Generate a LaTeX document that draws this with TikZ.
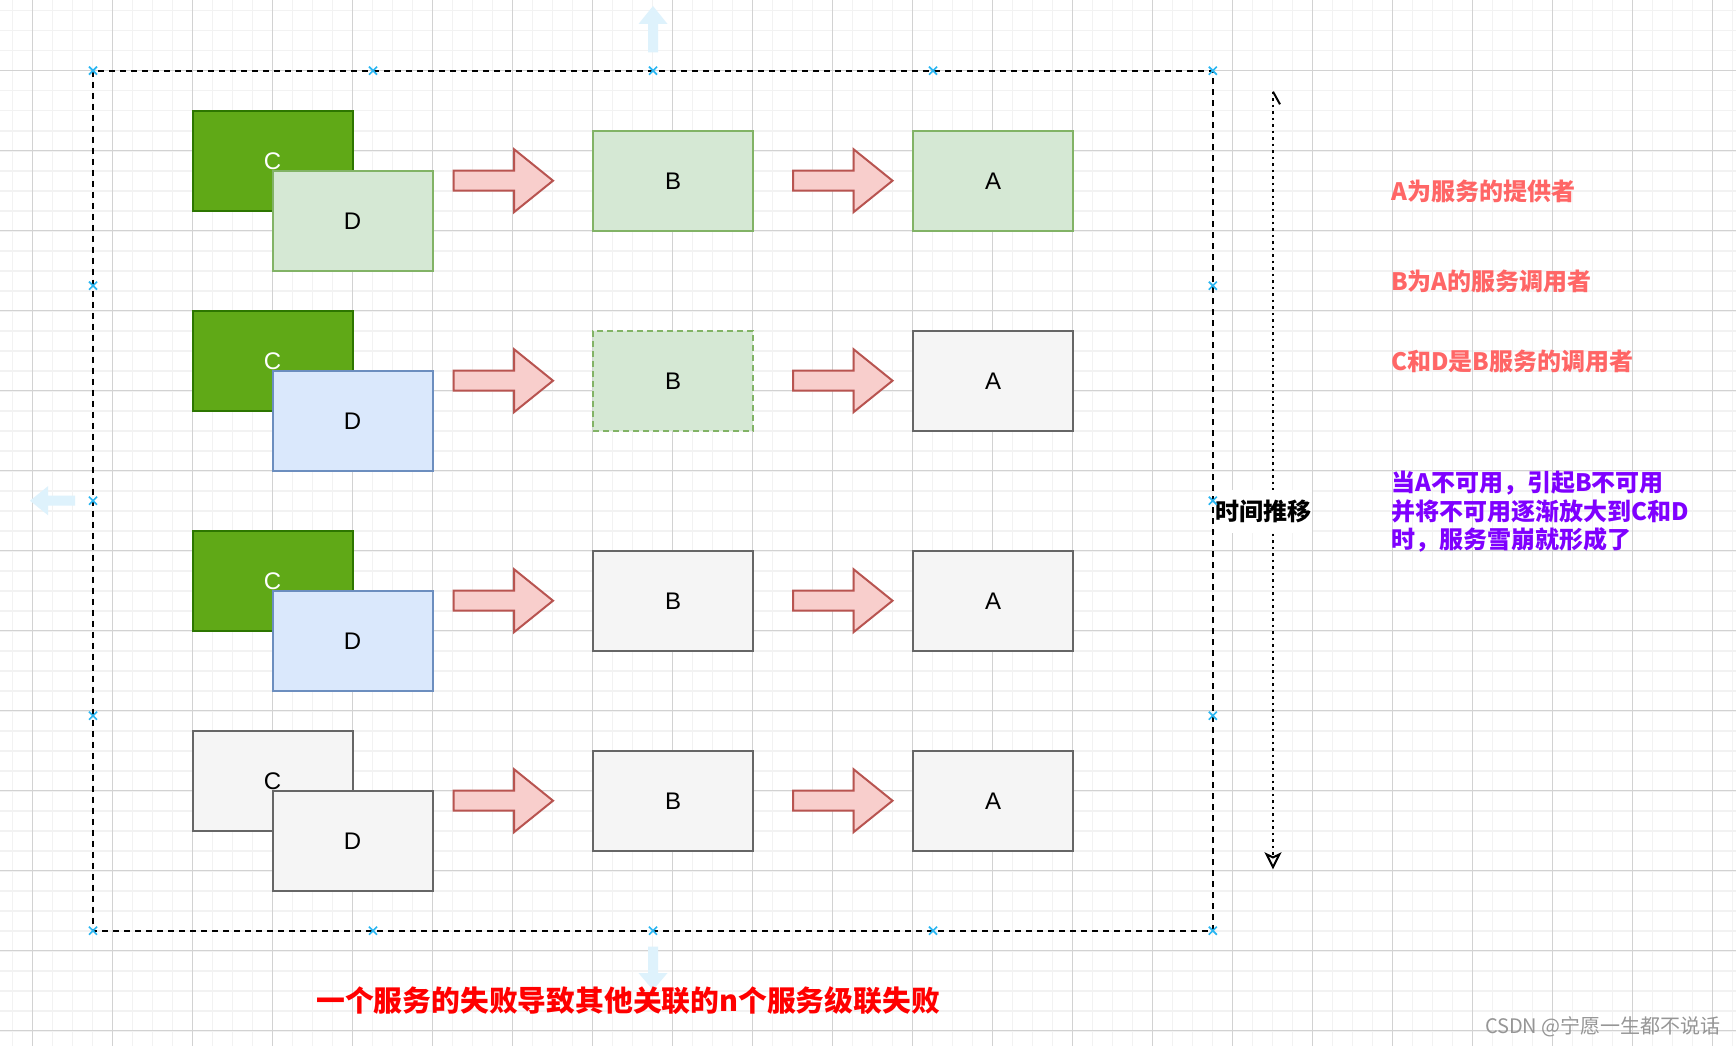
\documentclass[tikz,border=0pt]{standalone}
\usepackage{fontspec}
\setmainfont{Liberation Sans}
\newfontfamily\cjk{Noto Sans CJK SC}
\usetikzlibrary{arrows.meta}

\definecolor{gridminor}{RGB}{242,242,242}
\definecolor{gridmajor}{RGB}{210,210,210}
\definecolor{cfill}{HTML}{60A917}
\definecolor{cline}{HTML}{2D7600}
\definecolor{gfill}{HTML}{D5E8D4}
\definecolor{gline}{HTML}{82B366}
\definecolor{bfill}{HTML}{DAE8FC}
\definecolor{bline}{HTML}{6C8EBF}
\definecolor{nfill}{HTML}{F5F5F5}
\definecolor{nline}{HTML}{666666}
\definecolor{afill}{HTML}{F8CECC}
\definecolor{aline}{HTML}{B85450}
\definecolor{handle}{HTML}{29B6F2}
\definecolor{hint}{RGB}{222,242,252}
\definecolor{notered}{HTML}{FF6666}
\definecolor{notepurple}{HTML}{7F00FF}
\definecolor{titlered}{HTML}{FF0000}
\definecolor{wmgray}{RGB}{150,150,150}

\begin{document}
\begin{tikzpicture}[x=1pt,y=-1pt,
  svc/.style={draw, line width=2pt, minimum width=160pt, minimum height=100pt,
    anchor=north west, inner sep=0pt, outer sep=0pt,
    text height=18.4pt, text depth=0pt,
    font=\fontsize{24}{28}\selectfont},
  cbox/.style={svc, fill=cfill, draw=cline, text=white},
  greenbox/.style={svc, fill=gfill, draw=gline},
  bluebox/.style={svc, fill=bfill, draw=bline},
  greybox/.style={svc, fill=nfill, draw=nline},
  note/.style={anchor=west, inner sep=0pt, align=left,
    font=\cjk\bfseries\fontsize{24}{28.3}\selectfont},
  blockarrow/.pic={
    \draw[line width=2pt, draw=aline, fill=afill, line join=miter]
      (0,-10) -- (60.5,-10) -- (60.5,-31.5) -- (99.5,0) -- (60.5,31.5)
      -- (60.5,10) -- (0,10) -- cycle;},
  handlemark/.pic={
    \draw[handle, line width=1.7pt] (-4,-4) -- (4,4) (-4,4) -- (4,-4);}
]
\useasboundingbox (0,0) rectangle (1736,1046);
\fill[white] (0,0) rectangle (1736,1046);

% background grid
\foreach \i in {0,...,86}
  \draw[gridminor, line width=1.6pt] ({12.6+20*\i},0) -- ({12.6+20*\i},1046);
\foreach \i in {0,...,51}
  \draw[gridminor, line width=1.6pt] (0,{10.7+20*\i}) -- (1736,{10.7+20*\i});
\foreach \i in {0,...,21}
  \draw[gridmajor, line width=1pt] ({32.6+80*\i},0) -- ({32.6+80*\i},1046);
\foreach \i in {0,...,12}
  \draw[gridmajor, line width=1pt] (0,{70.7+80*\i}) -- (1736,{70.7+80*\i});

% faded direction hints around the container
\fill[hint] (648,52.5) -- (648,24) -- (638.5,24) -- (653,6) -- (667.5,24)
  -- (658,24) -- (658,52.5) -- cycle;
\fill[hint] (648,946.7) -- (648,973) -- (638.5,973) -- (653,990) -- (667.5,973)
  -- (658,973) -- (658,946.7) -- cycle;
\fill[hint] (75,495.7) -- (48,495.7) -- (48,486.2) -- (30,500.7) -- (48,515.2)
  -- (48,505.7) -- (75,505.7) -- cycle;

% container
\draw[line width=2pt, dash pattern=on 6pt off 5pt] (93,70.7) rectangle (1212.8,930.7);

% row 1: everything healthy
\node[cbox] (c1) at (192.5,110.7) {C};
\node[greenbox] (d1) at (272.5,170.7) {D};
\node[greenbox] (b1) at (593,130.7) {B};
\node[greenbox] (a1) at (913,130.7) {A};

% row 2: A down, B degrading
\node[cbox] (c2) at (192.5,310.7) {C};
\node[bluebox] (d2) at (272.5,370.7) {D};
\node[greenbox, dashed, dash pattern=on 6pt off 4pt] (b2) at (593,330.7) {B};
\node[greybox] (a2) at (913,330.7) {A};

% row 3: A and B down
\node[cbox] (c3) at (192.5,530.7) {C};
\node[bluebox] (d3) at (272.5,590.7) {D};
\node[greybox] (b3) at (593,550.7) {B};
\node[greybox] (a3) at (913,550.7) {A};

% row 4: all down
\node[greybox] (c4) at (192.5,730.7) {C};
\node[greybox] (d4) at (272.5,790.7) {D};
\node[greybox] (b4) at (593,750.7) {B};
\node[greybox] (a4) at (913,750.7) {A};

% call arrows
\foreach \r in {1,2,3,4} {
  \pic at ([xshift=-139.5pt]b\r.west) {blockarrow};
  \pic at ([xshift=-120pt]a\r.west) {blockarrow};
}

% time axis
\coordinate (tstart) at (1273,91.7);
\coordinate (tend) at (1273,869.3);
\draw[line width=2pt, dash pattern=on 2.5pt off 4pt,
  -{Stealth[open, length=17pt, width=17pt, inset=4pt]}] (tstart) -- (tend);
\draw[line width=2pt] (tstart) -- ++(7,12.6);
\node[anchor=west, fill=white, inner xsep=0.5pt, inner ysep=0pt, minimum height=43pt,
  font=\cjk\bfseries\fontsize{24}{28}\selectfont] (timelabel) at (1214.5,511.7) {时间推移};

% notes
\node[note, text=notered] (n1) at (1391,191.7) {A为服务的提供者};
\node[note, text=notered] (n2) at (1391,281.7) {B为A的服务调用者};
\node[note, text=notered] (n3) at (1391,361.7) {C和D是B服务的调用者};
\node[note, text=notepurple] (n4) at (1391,511.7)
  {当A不可用，引起B不可用\\并将不可用逐渐放大到C和D\\时，服务雪崩就形成了};

\node[anchor=west, inner sep=0pt, text=titlered,
  font=\cjk\bfseries\fontsize{28.8}{34}\selectfont] (caption) at (316,1001)
  {一个服务的失败导致其他关联的n个服务级联失败};

\node[anchor=east, inner sep=0pt, text=wmgray,
  font=\cjk\fontsize{20}{24}\selectfont] (wm) at (1721,1027) {CSDN @宁愿一生都不说话};

% selection handles on the container
\foreach \x in {93,373,653,933,1212.8} {
  \pic at (\x,70.7) {handlemark};
  \pic at (\x,930.7) {handlemark};
}
\foreach \y in {285.7,500.7,715.7} {
  \pic at (93,\y) {handlemark};
  \pic at (1212.8,\y) {handlemark};
}
\end{tikzpicture}
\end{document}
